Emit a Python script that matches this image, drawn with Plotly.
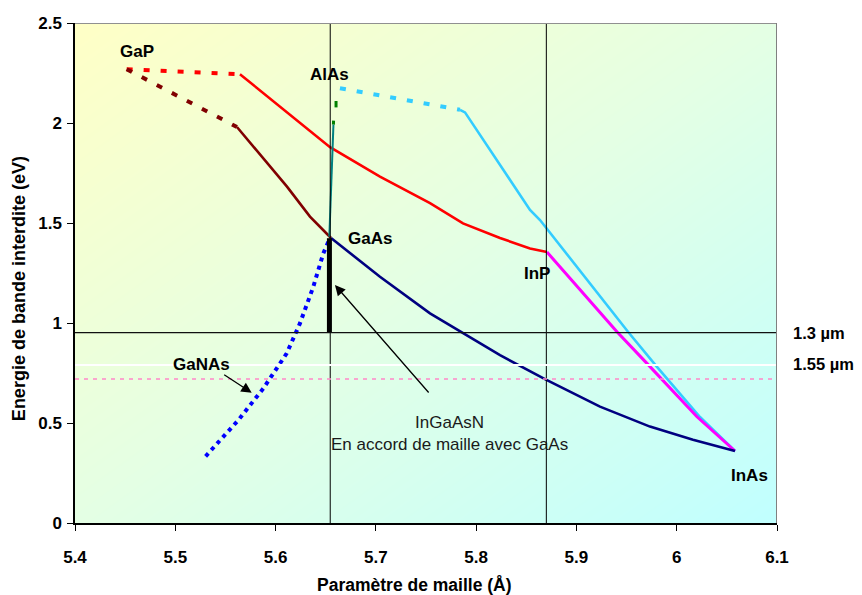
import numpy as np
import plotly.graph_objects as go

# ---------------- data (lattice parameter in Å, band gap in eV) ----------------
gap_ingap_indirect_x = [5.4515, 5.5645]
gap_ingap_indirect_y = [2.269, 2.244]
ingap_x = [5.5645, 5.6044, 5.6543, 5.7041, 5.754, 5.7869, 5.8238, 5.8537, 5.8706]
ingap_y = [2.244, 2.082, 1.879, 1.732, 1.599, 1.498, 1.425, 1.373, 1.355]

gaasp_indirect_x = [5.4515, 5.5615]
gaasp_indirect_y = [2.269, 1.980]
gaasp_x = [5.5615, 5.5944, 5.6114, 5.6343, 5.6553]
gaasp_y = [1.980, 1.782, 1.682, 1.532, 1.425]

ingaas_x = [5.6553, 5.7041, 5.754, 5.7869, 5.8238, 5.8686, 5.9235, 5.9733, 6.0162, 6.0581]
ingaas_y = [1.425, 1.231, 1.048, 0.948, 0.839, 0.719, 0.582, 0.482, 0.416, 0.360]

inasp_x = [5.8706, 5.9404, 5.9703, 6.0202, 6.0581]
inasp_y = [1.355, 0.956, 0.798, 0.531, 0.360]

alinas_indirect_x = [5.6642, 5.7839]
alinas_indirect_y = [2.174, 2.066]
alinas_x = [5.7839, 5.7889, 5.8537, 5.8637, 5.9514, 5.9803, 6.0232, 6.0581]
alinas_y = [2.066, 2.053, 1.565, 1.515, 0.956, 0.781, 0.530, 0.360]

algaas_indirect_x = [5.6603, 5.6603]
algaas_indirect_y = [2.110, 2.078]
algaas_mark_x = [5.6578, 5.6577]
algaas_mark_y = [2.012, 1.992]
algaas_x = [5.6577, 5.6550, 5.6536]
algaas_y = [1.992, 1.615, 1.431]

ingaasn_x = [5.6537, 5.6537]
ingaasn_y = [1.424, 0.952]

ganas_x = [5.6526, 5.6476, 5.6376, 5.6243, 5.6111, 5.5878, 5.5628, 5.5296]
ganas_y = [1.406, 1.348, 1.181, 0.998, 0.848, 0.673, 0.514, 0.330]

gaas_a = 5.6545
inp_a = 5.870
e_13um = 0.952
e_155um = 0.790
e_pink = 0.720

x_ticks = [5.4, 5.5, 5.6, 5.7, 5.8, 5.9, 6.0, 6.1]
x_tick_labels = ["5.4", "5.5", "5.6", "5.7", "5.8", "5.9", "6", "6.1"]
y_ticks = [0, 0.5, 1, 1.5, 2, 2.5]
y_tick_labels = ["0", "0.5", "1", "1.5", "2", "2.5"]

FONT = "Liberation Sans, Arial, sans-serif"

fig = go.Figure()

# ---------------- gradient background ----------------
gx = np.linspace(5.4, 6.1, 71)
gy = np.linspace(0, 2.5, 51)
XN = (gx - 5.4) / 0.7
YN = gy / 2.5
Z = (XN[None, :] + (1 - YN[:, None])) / 2
fig.add_trace(go.Heatmap(
    x=gx, y=gy, z=Z, zsmooth="best", showscale=False, hoverinfo="skip",
    colorscale=[[0, "#FFFFC6"], [0.5, "#E4FFE4"], [1, "#C0FFFF"]],
    zmin=0, zmax=1,
))

def line(x, y, color, width=3, dash="solid"):
    fig.add_trace(go.Scatter(x=x, y=y, mode="lines", hoverinfo="skip",
                             showlegend=False,
                             line=dict(color=color, width=width, dash=dash)))

DASH = "6px,11px"
line(gap_ingap_indirect_x, gap_ingap_indirect_y, "#FF0000", 4, DASH)
line(ingap_x, ingap_y, "#FF0000", 2.6)
line(gaasp_indirect_x, gaasp_indirect_y, "#800000", 4, DASH)
line(gaasp_x, gaasp_y, "#800000", 2.6)
line(alinas_indirect_x, alinas_indirect_y, "#33CCFF", 4, DASH)
line(alinas_x, alinas_y, "#33CCFF", 2.6)
line(inasp_x, inasp_y, "#FF00FF", 3)
line(ingaas_x, ingaas_y, "#000080", 2.6)
line(algaas_indirect_x, algaas_indirect_y, "#008000", 3)
line(algaas_mark_x, algaas_mark_y, "#008000", 3)
line(algaas_x, algaas_y, "#008080", 2)
line(ganas_x, ganas_y, "#0000FF", 4, "4px,4.5px")
line(ingaasn_x, ingaasn_y, "#000000", 5)

# ---------------- reference lines ----------------
shapes = [
    dict(type="line", x0=gaas_a, x1=gaas_a, y0=0, y1=2.5, line=dict(color="black", width=1)),
    dict(type="line", x0=inp_a, x1=inp_a, y0=0, y1=2.5, line=dict(color="black", width=1)),
    dict(type="line", x0=5.4, x1=6.1, y0=e_13um, y1=e_13um, line=dict(color="#111111", width=1.2)),
    dict(type="line", x0=5.4, x1=6.1, y0=e_155um, y1=e_155um, line=dict(color="white", width=2)),
    dict(type="line", x0=5.4, x1=6.1, y0=e_pink, y1=e_pink,
         line=dict(color="#FF88C8", width=1.5, dash="4px,5px")),
    dict(type="line", x0=5.4, x1=6.1, y0=2.5, y1=2.5, line=dict(color="#909090", width=2)),
    dict(type="line", x0=6.1, x1=6.1, y0=0, y1=2.5, line=dict(color="#808080", width=2)),
]

bold = dict(family=FONT, size=17, color="black", weight="bold")
annotations = []
for txt, x, y in [("GaP", 5.4623, 2.358), ("AlAs", 5.6538, 2.243), ("GaAs", 5.6946, 1.422),
                  ("InP", 5.8602, 1.247), ("InAs", 6.0726, 0.239), ("GaNAs", 5.5263, 0.794)]:
    annotations.append(dict(x=x, y=y, xref="x", yref="y", text=txt, showarrow=False,
                            font=bold, xanchor="center", yanchor="middle"))
side = dict(family=FONT, size=16.5, color="black", weight="bold")
for txt, y in [("1.3 µm", 0.949), ("1.55 µm", 0.797)]:
    annotations.append(dict(x=1.0205, y=y, xref="paper", yref="y", text=txt, showarrow=False,
                            font=side, xanchor="left", yanchor="middle"))
annotations.append(dict(x=5.7739, y=0.449, xref="x", yref="y",
                        text="InGaAsN<br>En accord de maille avec GaAs", showarrow=False,
                        font=dict(family=FONT, size=17, color="#1a1a1a"),
                        xanchor="center", yanchor="middle"))
# arrows
annotations.append(dict(x=5.5762, y=0.651, xref="x", yref="y", text="", showarrow=True,
                        ax=-29, ay=-19, arrowhead=2, arrowsize=1.6, arrowwidth=1.3,
                        arrowcolor="black"))
annotations.append(dict(x=5.6592, y=1.19, xref="x", yref="y", text="", showarrow=True,
                        ax=95, ay=109, arrowhead=2, arrowsize=1.6, arrowwidth=1.3,
                        arrowcolor="black"))
# axis titles
annotations.append(dict(x=0.483, y=-0.124, xref="paper", yref="paper",
                        text="Paramètre de maille (Å)", showarrow=False,
                        xanchor="center", yanchor="middle",
                        font=dict(family=FONT, size=17.5, color="black", weight="bold")))
annotations.append(dict(x=-0.0798, y=0.4697, xref="paper", yref="paper",
                        text="Energie de bande interdite (eV)", showarrow=False,
                        textangle=-90, xanchor="center", yanchor="middle",
                        font=dict(family=FONT, size=18, color="black", weight="bold")))

tickfont = dict(family=FONT, size=17, color="black", weight="bold")
fig.update_layout(
    width=846, height=587,
    margin=dict(l=67, r=77, t=15, b=72, autoexpand=False),
    paper_bgcolor="white", plot_bgcolor="white",
    showlegend=False,
    shapes=shapes, annotations=annotations,
    xaxis=dict(range=[5.4, 6.1], tickvals=x_ticks, ticktext=x_tick_labels,
               showgrid=False, zeroline=False, showline=True, linecolor="black",
               linewidth=1.5, ticks="outside", ticklen=6, tickcolor="black",
               tickfont=tickfont, ticklabelstandoff=12, automargin=False),
    yaxis=dict(range=[0, 2.5], tickvals=y_ticks, ticktext=y_tick_labels,
               showgrid=False, zeroline=False, showline=True, linecolor="black",
               linewidth=1.5, ticks="outside", ticklen=6, tickcolor="black",
               tickfont=tickfont, ticklabelstandoff=2, automargin=False),
)

fig.write_html("out.html")
